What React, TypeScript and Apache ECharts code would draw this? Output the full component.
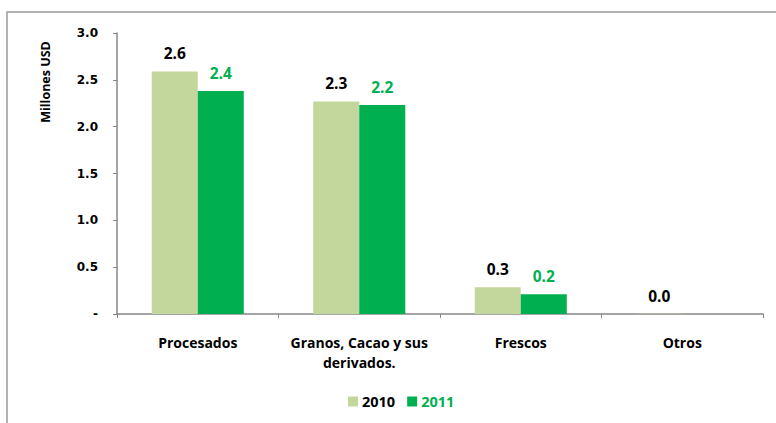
import React, { useEffect, useRef } from "react";
import * as echarts from "echarts";

const categories = ["Procesados", "Granos, Cacao y sus\nderivados.", "Frescos", "Otros"];
const values2010 = [2.59, 2.27, 0.285, 0.003];
const values2011 = [2.38, 2.23, 0.21, null];
const yTicks = { min: 0, max: 3, interval: 0.5 };

const FONT = "Open Sans";
const TICKFONT = "DejaVu Sans";

export default function App() {
  const ref = useRef<HTMLDivElement>(null);
  useEffect(() => {
    if (!ref.current) return;
    const chart = echarts.init(ref.current, null, { renderer: "svg" });
    chart.setOption({
      animation: false,
      backgroundColor: "#ffffff",
      textStyle: { fontFamily: FONT },
      graphic: [
        {
          type: "rect",
          shape: { x: 7, y: 12, width: 800, height: 450 },
          style: { fill: "none", stroke: "#9a9a9a", lineWidth: 1.5 },
          silent: true,
        },
        {
          type: "text",
          x: 45,
          y: 82,
          rotation: Math.PI / 2,
          style: {
            text: "Millones USD",
            fill: "#000",
            font: `bold 12.5px ${FONT}`,
            align: "center",
            verticalAlign: "middle",
          },
        },
      ],
      grid: { left: 117, right: 13, top: 33, bottom: 109 },
      legend: {
        bottom: 9,
        left: 343,
        itemWidth: 10,
        itemHeight: 10,
        itemGap: 12,
        icon: "rect",
        textStyle: { fontFamily: FONT, fontWeight: "bold", fontSize: 14.5, padding: [0, 0, 0, -1] },
        data: [
          { name: "2010", textStyle: { color: "#000000" } },
          { name: "2011", textStyle: { color: "#00b050" } },
        ],
      },
      xAxis: {
        type: "category",
        data: categories,
        axisLine: { lineStyle: { color: "#878787", width: 1.5 } },
        axisTick: { show: true, length: 4, lineStyle: { color: "#878787" } },
        axisLabel: {
          interval: 0,
          hideOverlap: false,
          color: "#000",
          fontFamily: FONT,
          fontWeight: "bold",
          fontSize: 14,
          lineHeight: 20,
          margin: 18,
        },
      },
      yAxis: {
        type: "value",
        min: yTicks.min,
        max: yTicks.max,
        interval: yTicks.interval,
        splitLine: { show: false },
        axisLine: { show: true, lineStyle: { color: "#878787", width: 1.5 } },
        axisTick: { show: true, inside: false, length: 4, lineStyle: { color: "#878787" } },
        axisLabel: {
          color: "#000",
          fontFamily: TICKFONT,
          fontWeight: "bold",
          fontSize: 12,
          margin: 19,
          formatter: (v: number) => (v === 0 ? "-" : v.toFixed(1)),
        },
      },
      series: [
        {
          name: "2010",
          type: "bar",
          data: values2010,
          barGap: "0%",
          barCategoryGap: "43%",
          itemStyle: { color: "#c3d69b" },
          label: {
            show: true,
            position: "top",
            distance: 10,
            color: "#000",
            fontFamily: FONT,
            fontWeight: "bold",
            fontSize: 15.5,
            formatter: (p: any) => Number(p.value).toFixed(1),
          },
        },
        {
          name: "2011",
          type: "bar",
          data: values2011,
          itemStyle: { color: "#00b050" },
          label: {
            show: true,
            position: "top",
            distance: 10,
            color: "#00b050",
            fontFamily: FONT,
            fontWeight: "bold",
            fontSize: 15.5,
            formatter: (p: any) => Number(p.value).toFixed(1),
          },
        },
      ],
    });
    return () => chart.dispose();
  }, []);
  return (
    <div style={{ position: "fixed", left: 0, top: 0, width: 776, height: 423 }}>
      <div ref={ref} style={{ width: 776, height: 423 }} />
    </div>
  );
}
